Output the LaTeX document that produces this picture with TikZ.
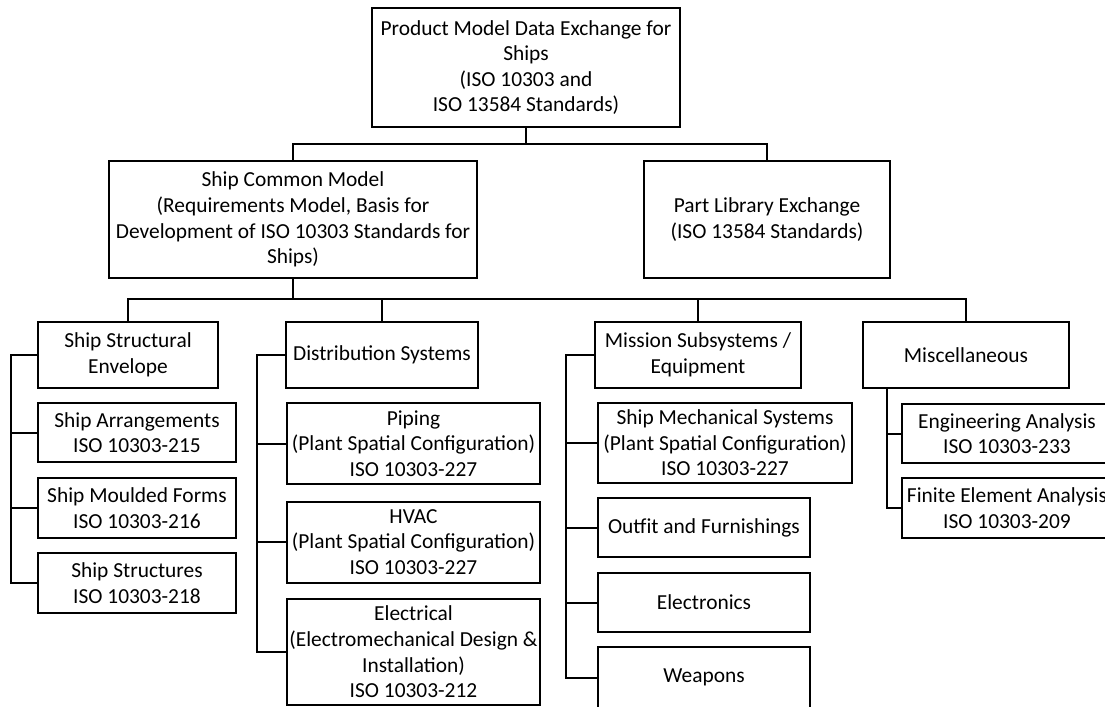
\documentclass[tikz,border=0pt]{standalone}
\usepackage{fontspec}
\setmainfont{Carlito}
\usepackage{tikz}

\tikzset{
  box/.style={draw, line width=1pt, rectangle, align=center, inner sep=0pt,
    font=\fontsize{10.7}{12.8}\selectfont},
  link/.style={line width=1pt}
}

\begin{document}
\begin{tikzpicture}[x=0.5pt, y=-0.5pt]
        \useasboundingbox (0,0) rectangle (1105,707);
        \clip (0,0) rectangle (1105,707);
        % top of the tree
        \node[box, minimum width=154pt, minimum height=59.5pt] (root) at (526,67.5)
          {Product Model Data Exchange for\\Ships\\(ISO 10303 and\\ISO 13584 Standards)};
        \node[box, minimum width=184pt, minimum height=58.5pt] (scm) at (293,219.5)
          {Ship Common Model\\(Requirements Model, Basis for\\Development of ISO 10303 Standards for\\Ships)};
        \node[box, minimum width=123pt, minimum height=58.5pt] (plx) at (767,219.5)
          {Part Library Exchange\\(ISO 13584 Standards)};
        % four groups
        \node[box, minimum width=90pt, minimum height=33pt] (sse) at (128,355) {Ship Structural\\Envelope};
        \node[box, minimum width=96pt, minimum height=33pt] (dist) at (382,355) {Distribution Systems};
        \node[box, minimum width=103pt, minimum height=33pt] (mss) at (698,355) {Mission Subsystems /\\Equipment};
        \node[box, minimum width=103pt, minimum height=33pt] (misc) at (966,355) {Miscellaneous};
        % structural envelope
        \node[box, minimum width=99pt, minimum height=29.5pt] (sarr) at (137,432.5) {Ship Arrangements\\ISO 10303-215};
        \node[box, minimum width=99pt, minimum height=30pt] (smf) at (137,508) {Ship Moulded Forms\\ISO 10303-216};
        \node[box, minimum width=99pt, minimum height=30pt] (sstr) at (137,583) {Ship Structures\\ISO 10303-218};
        % distribution systems
        \node[box, minimum width=126.5pt, minimum height=40.5pt] (pip) at (413.5,443.5)
          {Piping\\(Plant Spatial Configuration)\\ISO 10303-227};
        \node[box, minimum width=126.5pt, minimum height=40.5pt] (hvac) at (413.5,542)
          {HVAC\\(Plant Spatial Configuration)\\ISO 10303-227};
        \node[box, minimum width=126.5pt, minimum height=53pt] (elec) at (413.5,652)
          {Electrical\\(Electromechanical Design \&\\Installation)\\ISO 10303-212};
        % mission subsystems
        \node[box, minimum width=127pt, minimum height=40pt] (smech) at (725,443)
          {Ship Mechanical Systems\\(Plant Spatial Configuration)\\ISO 10303-227};
        \node[box, minimum width=106pt, minimum height=29.5pt] (outf) at (704,527.5) {Outfit and Furnishings};
        \node[box, minimum width=106pt, minimum height=29.5pt] (elx) at (704,602.5) {Electronics};
        \node[box, minimum width=106pt, minimum height=31pt] (wpn) at (704,677.5) {Weapons};
        % miscellaneous
        \node[box, minimum width=105pt, minimum height=29.5pt] (eng) at (1007,433.5) {Engineering Analysis\\ISO 10303-233};
        \node[box, minimum width=105pt, minimum height=30pt] (fea) at (1007,508) {Finite Element Analysis\\ISO 10303-209};

        % tree lines
        \coordinate (bus1) at (root.south |- 0,144);
        \draw[link] (root.south) -- (bus1);
        \draw[link] (bus1) -| (scm.north);
        \draw[link] (bus1) -| (plx.north);
        \coordinate (bus2) at (scm.south |- 0,299);
        \draw[link] (scm.south) -- (bus2);
        \foreach \g in {sse, dist, mss, misc}
          \draw[link] (bus2) -| (\g.north);
        % side branches
        \coordinate (sseL) at ([xshift=-13pt]sse.west);
        \foreach \k in {sarr, smf, sstr}
          \draw[link] (sse.west) -- (sseL) |- (\k.west);
        \coordinate (distL) at ([xshift=-14pt]dist.west);
        \foreach \k in {pip, hvac, elec}
          \draw[link] (dist.west) -- (distL) |- (\k.west);
        \coordinate (mssL) at ([xshift=-14pt]mss.west);
        \foreach \k in {smech, outf, elx, wpn}
          \draw[link] (mss.west) -- (mssL) |- (\k.west);
        \coordinate (miscL) at ([xshift=12.5pt]misc.south west);
        \foreach \k in {eng, fea}
          \draw[link] (miscL) |- (\k.west);
      \end{tikzpicture}
\end{document}
